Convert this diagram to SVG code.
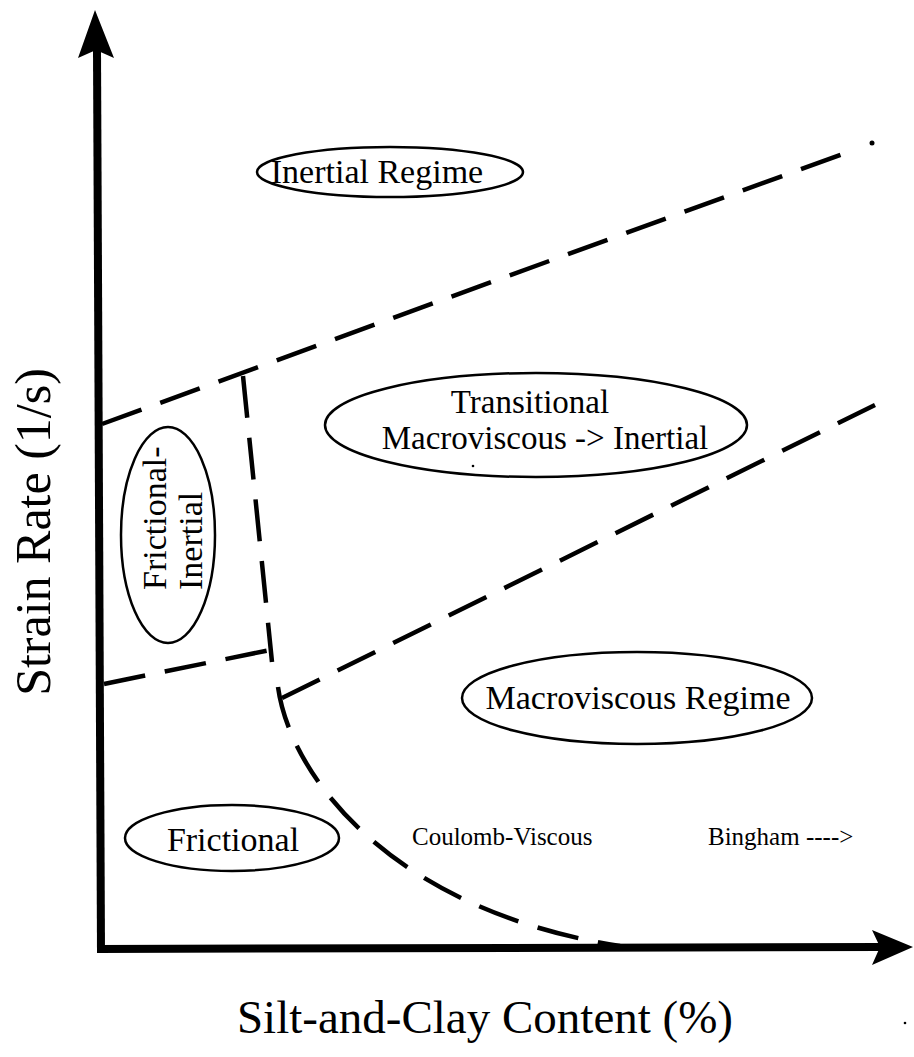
<svg xmlns="http://www.w3.org/2000/svg" width="914" height="1057" viewBox="0 0 914 1057">
<style>
.dash{fill:none;stroke:#000;stroke-width:4.5;stroke-dasharray:42 20;stroke-linecap:butt}
.axis{fill:none;stroke:#000;stroke-width:8}
.head{fill:#000}
.ell{fill:#fff;stroke:#000;stroke-width:2.5}
.big{font-family:"Liberation Serif","Times New Roman",serif;font-size:34px;fill:#000}
.small{font-family:"Liberation Serif","Times New Roman",serif;font-size:25px;fill:#000}
.lab{font-family:"Liberation Serif","Times New Roman",serif;font-size:47px;fill:#000}
</style>
<rect width="914" height="1057" fill="#fff"/>
<g id="axes">
<path class="axis" d="M101,953 L97,50"/>
<path class="head" d="M95,10 L114,58 L96,50 L78,58 Z"/>
<path class="axis" d="M97,949 L880,947"/>
<path class="head" d="M913,947 L872,965 L880,947 L872,930 Z"/>
</g>
<g id="connectors">
<path class="dash" d="M102,424 L851,151"/>
<circle cx="872" cy="143" r="2.5" fill="#000"/>
<path class="dash" d="M104,684 L270,650"/>
<path class="dash" d="M243,376 L272,662"/>
<path class="dash" d="M278,687 C290,775 390,910 620,946"/>
<path class="dash" d="M282,698 L875,405"/>
</g>
<g id="node-inertial">
<ellipse class="ell" cx="390" cy="172" rx="133" ry="25"/>
<text class="big" x="377" y="183" text-anchor="middle">Inertial Regime</text>
</g>
<g id="node-transitional">
<ellipse class="ell" cx="536" cy="425" rx="211" ry="52"/>
<text class="big" x="530" y="413" text-anchor="middle" style="font-size:33px">Transitional</text>
<text class="big" x="545" y="449" text-anchor="middle" style="font-size:33px">Macroviscous -&gt; Inertial</text>
</g>
<g id="node-frictional-inertial">
<ellipse class="ell" cx="168" cy="535" rx="47" ry="108"/>
<text class="big" transform="translate(166,590) rotate(-90)">Frictional-</text>
<text class="big" transform="translate(202,590) rotate(-90)">Inertial</text>
</g>
<g id="node-macroviscous">
<ellipse class="ell" cx="637" cy="698" rx="175" ry="46"/>
<text class="big" x="638" y="709" text-anchor="middle">Macroviscous Regime</text>
</g>
<g id="node-frictional">
<ellipse class="ell" cx="232" cy="838" rx="107" ry="33"/>
<text class="big" x="233" y="851" text-anchor="middle">Frictional</text>
</g>
<g id="node-coulomb">
<text class="small" x="412" y="845">Coulomb-Viscous</text>
</g>
<g id="node-bingham">
<text class="small" x="708" y="845">Bingham ----&gt;</text>
</g>
<g id="labels">
<text class="lab" x="485" y="1033" text-anchor="middle">Silt-and-Clay Content (%)</text>
<text class="lab" transform="translate(50,532) rotate(-90)" text-anchor="middle" style="font-size:50px">Strain Rate (1/s)</text>
</g>
<circle cx="473" cy="466" r="1.3" fill="#000"/>
<circle cx="905" cy="1023" r="1.3" fill="#000"/>
</svg>
